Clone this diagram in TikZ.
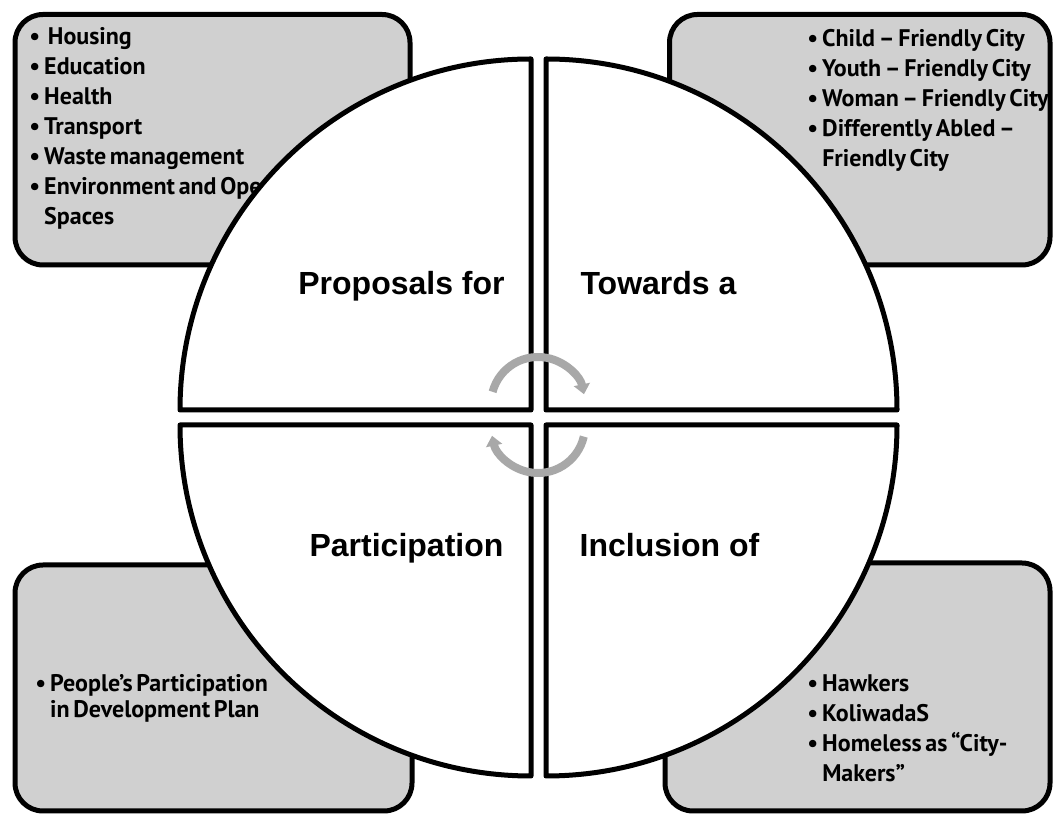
\documentclass[tikz,border=0pt]{standalone}
\usepackage{fontspec}
\setmainfont{Liberation Sans}
\newfontfamily\listfont[WordSpace=0.6]{PT Sans}
\usetikzlibrary{arrows.meta,positioning}
\definecolor{boxgray}{RGB}{208,208,208}
\definecolor{cyclegray}{RGB}{168,168,168}
\tikzset{
  infobox/.style={draw, line width=2.5pt, fill=boxgray, rounded corners=14pt},
  quarter/.style={draw, line width=2.5pt, fill=white, line join=round},
  title/.style={font=\fontsize{16}{19}\selectfont\bfseries, anchor=base, inner sep=0pt},
  bullets/.style={font=\listfont\bfseries\fontsize{12}{15}\selectfont, align=left, anchor=base west, inner sep=0pt},
  cyclearrow/.style={draw=cyclegray, line width=4pt, -{Triangle[width=8pt,length=5pt]}},
}
\newcommand{\bl}{\textbullet\,}
\newcommand{\hang}{\hphantom{\textbullet\,}}

\begin{document}
\begin{tikzpicture}[x=0.5pt, y=0.5pt]
          \useasboundingbox (0,0) rectangle (1055,819);

          % boxes
          \draw[infobox] (15,554) rectangle (410,804.5);
          \draw[infobox] (669.5,554) rectangle (1050,804.5);
          \draw[infobox] (15,8) rectangle (412,254);
          \draw[infobox] (665,8) rectangle (1050,256);

          % lists (placed at the baseline of their last line)
          \node[bullets] (services_list) at (29,594) {\bl\ Housing\\ \bl Education\\ \bl Health\\ \bl Transport\\ \bl Waste management\\ \bl Environment and Open\\ \hang Spaces};
          \node[bullets] (friendly_list) at (807,652) {\bl Child – Friendly City\\ \bl Youth – Friendly City\\ \bl Woman – Friendly City\\ \bl Differently Abled –\\ \hang Friendly City};
          \node[bullets, font=\listfont\bfseries\fontsize{12}{13}\selectfont] (people_list) at (35,101) {\bl People’s Participation\\ \hang in Development Plan};
          \node[bullets] (inclusion_list) at (807,37) {\bl Hawkers\\ \bl KoliwadaS\\ \bl Homeless as “City-\\ \hang Makers”};

          % quarters
          \draw[quarter] (531,409) -- (180,409) arc (180:90:351) -- cycle;
          \draw[quarter] (546,409) -- (546,760) arc (90:0:351) -- cycle;
          \draw[quarter] (531,394) -- (531,43) arc (270:180:351) -- cycle;
          \draw[quarter] (546,394) -- (897,394) arc (0:-90:351) -- cycle;

          % titles
          \node[title] (proposals) at (401.5,524) {Proposals for};
          \node[title] (towards) at (658.5,524) {Towards a};
          \node[title] (participation) at (406.5,262) {Participation};
          \node[title] (inclusion) at (669.5,262) {Inclusion of};

          % arrows
          \coordinate (turn_top) at (538,415);
          \coordinate (turn_bottom) at (538,393);
          \draw[cyclearrow] ([shift={(165:47)}]turn_top) arc (165:12:47);
          \draw[cyclearrow] ([shift={(-13:47)}]turn_bottom) arc (-13:-168:47);

\end{tikzpicture}
\end{document}
